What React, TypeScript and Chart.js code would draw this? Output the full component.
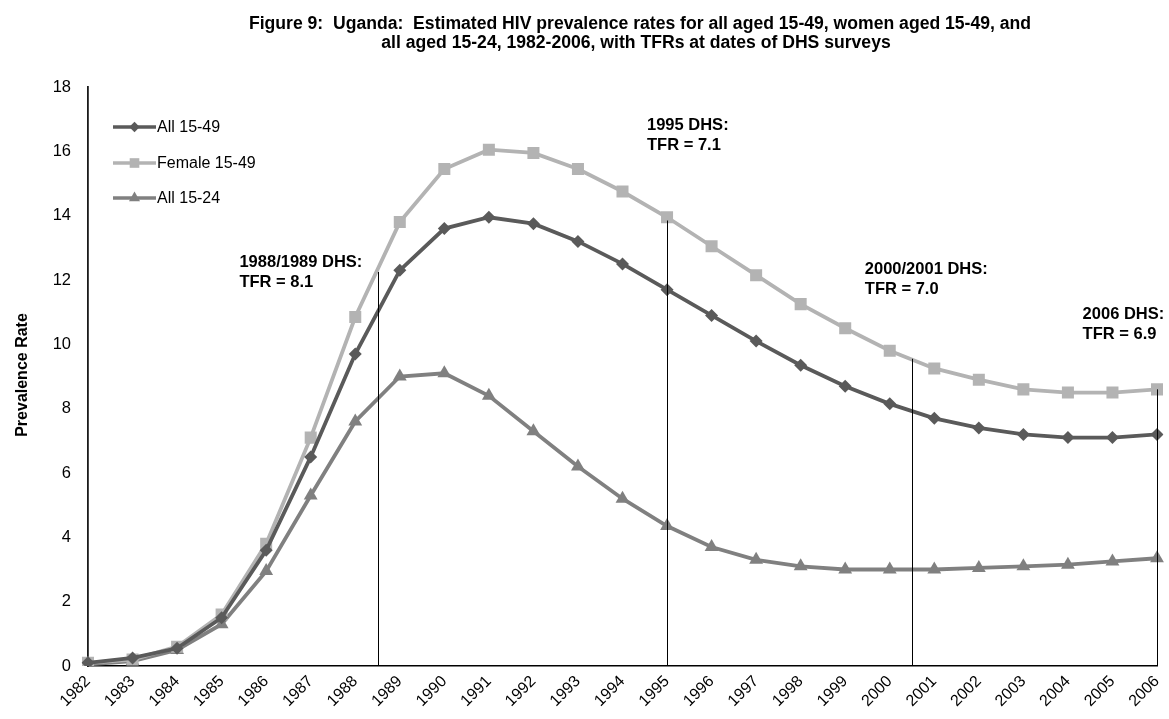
import React, { useEffect, useRef } from "react";
import { Chart, registerables } from "chart.js";

Chart.register(...registerables);

// ---------- data ----------
const years = [
  "1982", "1983", "1984", "1985", "1986", "1987", "1988", "1989", "1990", "1991",
  "1992", "1993", "1994", "1995", "1996", "1997", "1998", "1999", "2000", "2001",
  "2002", "2003", "2004", "2005", "2006",
];
const all1549 = [
  0.1, 0.25, 0.55, 1.5, 3.6, 6.5, 9.7, 12.3, 13.6, 13.95,
  13.75, 13.2, 12.5, 11.7, 10.9, 10.1, 9.35, 8.7, 8.15, 7.7,
  7.4, 7.2, 7.1, 7.1, 7.2,
];
const female1549 = [
  0.1, 0.2, 0.6, 1.6, 3.8, 7.1, 10.85, 13.8, 15.45, 16.05,
  15.95, 15.45, 14.75, 13.95, 13.05, 12.15, 11.25, 10.5, 9.8, 9.25,
  8.9, 8.6, 8.5, 8.5, 8.6,
];
const all1524 = [
  0.05, 0.15, 0.5, 1.3, 2.95, 5.3, 7.6, 9.0, 9.1, 8.4,
  7.3, 6.2, 5.2, 4.35, 3.7, 3.3, 3.1, 3.0, 3.0, 3.0,
  3.05, 3.1, 3.15, 3.25, 3.35,
];
const seriesNames = ["All 15-49", "Female 15-49", "All 15-24"];
const yMin = 0;
const yMax = 18;
const yStep = 2;

// DHS survey markers (x as fractional category index, top value)
const dhsIndex = [6.5, 13, 18.5, 24];
const dhsTop = [12.25, 13.85, 9.55, 8.6];
const dhsLine1 = ["1988/1989 DHS:", "1995 DHS:", "2000/2001 DHS:", "2006 DHS:"];
const dhsLine2 = ["TFR = 8.1", "TFR = 7.1", "TFR = 7.0", "TFR = 6.9"];

const titleLines = [
  "Figure 9:  Uganda:  Estimated HIV prevalence rates for all aged 15-49, women aged 15-49, and",
  "all aged 15-24, 1982-2006, with TFRs at dates of DHS surveys",
];
const yTitle = "Prevalence Rate";

// ---------- layout / style ----------
const W = 1169;
const H = 719;
const FONT = '"Liberation Sans", Arial, sans-serif';
const colors = ["#5a5a5a", "#b3b3b3", "#808080"];
const pointStyles = ["rectRot", "rect", "triangle"];
const pointRadii = [6.5, 8.5, 8];
// annotation text anchors (top-left) in data units: [category index, value]
const annAnchor = [
  [3.4, 12.78],
  [12.55, 17.03],
  [17.44, 12.56],
  [22.33, 11.16],
];

function drawMarker(ctx: CanvasRenderingContext2D, style: string, x: number, y: number, r: number, color: string) {
  ctx.save();
  ctx.fillStyle = color;
  ctx.beginPath();
  if (style === "rectRot") {
    ctx.moveTo(x - r, y);
    ctx.lineTo(x, y - r);
    ctx.lineTo(x + r, y);
    ctx.lineTo(x, y + r);
  } else if (style === "rect") {
    const s = r * Math.SQRT1_2;
    ctx.rect(x - s, y - s, 2 * s, 2 * s);
  } else {
    ctx.moveTo(x, y - r);
    ctx.lineTo(x + r * 0.866, y + r * 0.5);
    ctx.lineTo(x - r * 0.866, y + r * 0.5);
  }
  ctx.closePath();
  ctx.fill();
  ctx.restore();
}

const overlayPlugin = {
  id: "overlay",
  afterDatasetsDraw(chart: any) {
    const ctx: CanvasRenderingContext2D = chart.ctx;
    const xs = chart.scales.x;
    const ys = chart.scales.y;
    ctx.save();
    ctx.strokeStyle = "#000";
    ctx.lineWidth = 1;
    dhsIndex.forEach((v, i) => {
      const x = Math.round(xs.getPixelForValue(v)) + 0.5;
      ctx.beginPath();
      ctx.moveTo(x, ys.getPixelForValue(dhsTop[i]));
      ctx.lineTo(x, ys.getPixelForValue(0));
      ctx.stroke();
    });
    ctx.restore();
  },
  afterDraw(chart: any) {
    const ctx: CanvasRenderingContext2D = chart.ctx;
    const xs = chart.scales.x;
    const ys = chart.scales.y;
    ctx.save();
    // title
    ctx.fillStyle = "#000";
    ctx.font = `bold 17.6px ${FONT}`;
    ctx.textAlign = "center";
    ctx.textBaseline = "alphabetic";
    ctx.fillText(titleLines[0], 640, 29);
    ctx.fillText(titleLines[1], 636, 48);

    // y title
    ctx.save();
    ctx.translate(27, 375);
    ctx.rotate(-Math.PI / 2);
    ctx.textAlign = "center";
    ctx.font = `bold 16px ${FONT}`;
    ctx.fillText(yTitle, 0, 0);
    ctx.restore();

    // annotations
    ctx.textAlign = "left";
    ctx.textBaseline = "top";
    ctx.font = `bold 16.5px ${FONT}`;
    annAnchor.forEach((a, i) => {
      const x = xs.getPixelForValue(a[0]);
      const y = ys.getPixelForValue(a[1]);
      ctx.fillText(dhsLine1[i], x, y - 1);
      ctx.fillText(dhsLine2[i], x, y + 19);
    });

    // legend
    const legendY = [127, 163, 198];
    chart.data.datasets.forEach((ds: any, i: number) => {
      const y = legendY[i];
      ctx.strokeStyle = ds.borderColor;
      ctx.lineWidth = 3.5;
      ctx.beginPath();
      ctx.moveTo(113, y);
      ctx.lineTo(156, y);
      ctx.stroke();
      drawMarker(ctx, pointStyles[i], 134.5, y, pointRadii[i] * 0.8, ds.borderColor);
      ctx.fillStyle = "#000";
      ctx.font = `16px ${FONT}`;
      ctx.textBaseline = "middle";
      ctx.fillText(ds.label, 157, y + 1);
    });
    ctx.restore();
  },
};

export default function App() {
  const ref = useRef<HTMLCanvasElement | null>(null);

  useEffect(() => {
    document.body.style.margin = "0";
    const canvas = ref.current;
    if (!canvas) return;
    const seriesData = [all1549, female1549, all1524];
    const chart = new Chart(canvas, {
      type: "line",
      data: {
        labels: years,
        datasets: seriesData.map((d, i) => ({
          label: seriesNames[i],
          data: d,
          borderColor: colors[i],
          backgroundColor: colors[i],
          borderWidth: 3.8,
          pointStyle: pointStyles[i] as any,
          pointRadius: pointRadii[i],
          pointBorderWidth: 0,
          pointBackgroundColor: colors[i],
          pointBorderColor: colors[i],
          tension: 0,
          fill: false,
        })),
      },
      options: {
        responsive: false,
        animation: false,
        devicePixelRatio: 1,
        layout: { padding: { top: 87, right: 12, left: 0, bottom: 0 } },
        plugins: {
          legend: { display: false },
          title: { display: false },
          tooltip: { enabled: false },
        },
        scales: {
          x: {
            type: "category",
            offset: false,
            grid: { display: false, drawTicks: false },
            border: { display: true, color: "#000", width: 1.5 },
            ticks: {
              autoSkip: false,
              minRotation: 45,
              maxRotation: 45,
              padding: 6,
              color: "#000",
              font: { family: FONT, size: 16 },
            },
            afterFit: (s: any) => {
              s.height = 53;
              s.paddingRight = 0;
              s.paddingLeft = 0;
            },
          },
          y: {
            min: yMin,
            max: yMax,
            grid: { display: false, drawTicks: false },
            border: { display: true, color: "#1a1a1a", width: 1.8 },
            ticks: {
              stepSize: yStep,
              padding: 17,
              color: "#000",
              font: { family: FONT, size: 16.5 },
            },
            afterFit: (s: any) => {
              s.width = 88;
              s.paddingTop = 0;
              s.paddingBottom = 0;
            },
          },
        },
      },
      plugins: [overlayPlugin],
    });
    return () => chart.destroy();
  }, []);

  return (
    <div style={{ width: W, height: H, background: "#fff" }}>
      <canvas ref={ref} width={W} height={H} style={{ display: "block" }} />
    </div>
  );
}
